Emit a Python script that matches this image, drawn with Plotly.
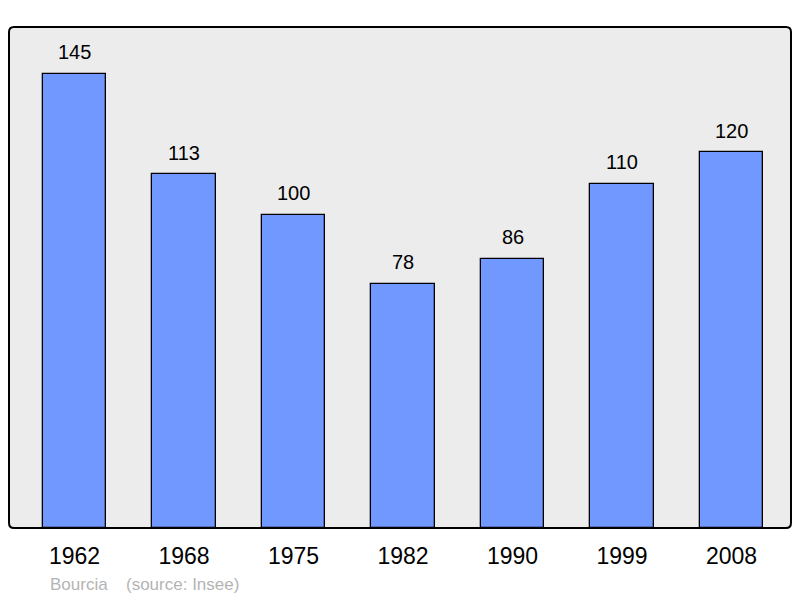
import plotly.graph_objects as go

years = ["1962", "1968", "1975", "1982", "1990", "1999", "2008"]
population = [145, 113, 100, 78, 86, 110, 120]

# The page body has an 8px margin, so the figure is sized/placed to compensate.
W, H = 784, 590
ML, MR, MT, MB = 1, 1, 19, 70
PW, PH = W - ML - MR, H - MT - MB

fig = go.Figure()
fig.add_trace(go.Bar(
    x=list(range(len(years))), y=population, width=0.58,
    marker=dict(color="#7098ff", line=dict(color="black", width=1.3)),
    hoverinfo="skip",
))

for i, v in enumerate(population):
    fig.add_annotation(x=i, y=v, text=str(v), showarrow=False, yshift=21.5, yanchor="middle",
                       font=dict(size=20, color="black", family="Liberation Sans, Arial"))

src_font = dict(size=17, color="#b4b4b4", family="Liberation Sans, Arial")
fig.add_annotation(xref="paper", yref="paper", x=39 / PW, y=-56 / PH, xanchor="left", yanchor="middle",
                   text="Bourcia", showarrow=False, font=src_font)
fig.add_annotation(xref="paper", yref="paper", x=115 / PW, y=-56 / PH, xanchor="left", yanchor="middle",
                   text="(source: Insee)", showarrow=False, font=src_font)

# rounded border of the plot area (paper coordinates)
rx, ry = 5 / PW, 5 / PH
path = (f"M {rx},0 L {1-rx},0 Q 1,0 1,{ry} L 1,{1-ry} Q 1,1 {1-rx},1 "
        f"L {rx},1 Q 0,1 0,{1-ry} L 0,{ry} Q 0,0 {rx},0 Z")
fig.add_shape(type="path", path=path, xref="paper", yref="paper",
              line=dict(color="black", width=2), fillcolor="rgba(0,0,0,0)", layer="above")

fig.update_layout(
    width=W, height=H,
    margin=dict(l=ML, r=MR, t=MT, b=MB, autoexpand=False),
    paper_bgcolor="white", plot_bgcolor="#ececec",
    showlegend=False,
    xaxis=dict(range=[-0.598, 6.543], showgrid=False, zeroline=False, ticks="",
               tickmode="array", tickvals=list(range(len(years))), ticktext=years,
               tickfont=dict(size=23, color="black", family="Liberation Sans, Arial"),
               ticklabelstandoff=12),
    yaxis=dict(range=[0, 160], showgrid=False, zeroline=False, showticklabels=False, ticks=""),
    bargap=0,
)

fig.write_html("out.html")
